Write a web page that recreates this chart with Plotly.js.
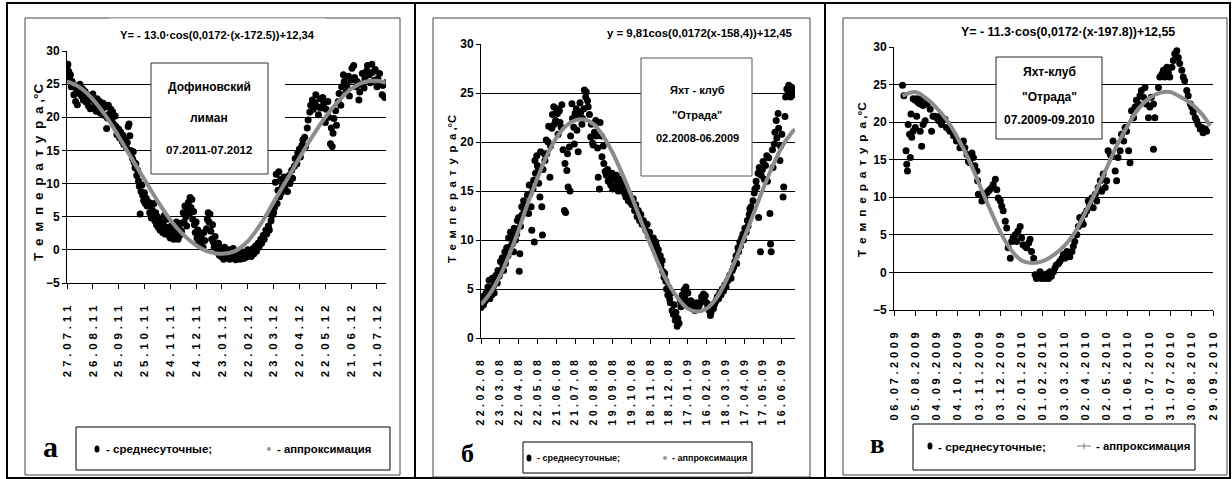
<!DOCTYPE html>
<html><head><meta charset="utf-8">
<script src="https://cdn.plot.ly/plotly-3.0.1.min.js"></script>
<style>html,body{margin:0;padding:0;background:#fff}#chart{width:1232px;height:479px}</style>
</head><body><div id="chart"></div>
<script>
// ---------- DATA ----------
// Panel a: Дофиновский лиман 07.2011-07.2012 (day index from 27.07.11)
const daysA = [0,1,2,3,4,5,6,8,9,10,11,12,13,14,15,17,18,19,21,22,23,25,26,27,29,30,31,33,34,35,37,38,39,41,42,43,45,46,47,48,49,51,52,53,54,56,57,58,60,61,62,64,65,66,68,69,70,71,72,73,74,75,76,77,78,79,80,81,82,83,84,85,86,87,88,89,90,91,92,93,95,96,97,98,99,100,101,102,103,104,105,106,107,108,109,111,112,113,114,115,116,118,119,120,121,122,124,125,126,127,128,129,130,131,132,133,135,136,137,138,139,140,141,142,143,144,145,146,147,148,149,150,151,152,153,154,155,156,158,159,160,162,163,164,165,166,167,168,169,170,171,172,174,175,176,177,178,179,181,182,183,185,186,188,189,190,192,193,195,196,198,199,201,202,204,205,207,208,210,211,213,214,216,217,219,220,222,223,225,226,228,229,231,232,234,235,237,238,240,241,242,243,244,245,246,247,248,249,250,252,253,255,256,258,259,261,262,264,265,267,268,270,271,273,274,276,277,279,280,282,283,285,286,288,289,291,292,294,295,297,298,300,301,303,304,306,307,308,309,310,312,313,315,316,318,319,321,322,324,325,327,328,330,331,333,334,336,337,339,340,342,343,345,346,348,349,351,352,354,355,357,358,360,361,363,364,366,367,369,370];
const tempA = [27.6,28.0,26.9,25.8,26.4,24.6,25.4,23.4,24.6,22.4,23.8,21.9,24.8,23.6,25.0,23.2,24.3,22.6,23.9,22.3,23.4,21.7,22.8,21.3,22.6,23.5,21.4,22.2,20.9,22.8,21.5,22.4,20.6,21.2,22.1,20.3,21.6,18.3,19.9,21.8,20.5,21.2,19.6,20.8,19.0,20.2,18.6,17.4,18.2,16.9,17.8,16.4,17.3,15.9,16.6,15.4,16.2,18.6,19.0,17.2,15.0,14.6,13.8,14.8,13.2,12.4,13.0,11.2,12.0,10.4,9.6,5.4,8.8,9.8,8.2,7.4,8.6,7.0,7.8,6.6,7.2,5.6,6.8,4.8,6.0,5.2,7.0,4.4,5.6,3.8,5.0,3.4,4.6,3.0,4.2,2.6,3.8,5.2,2.4,3.4,4.6,2.2,3.0,1.8,3.6,2.4,1.6,3.0,2.0,4.2,2.6,1.6,3.4,2.2,4.0,2.8,5.6,4.2,6.6,5.0,3.6,6.2,7.2,5.4,7.9,6.4,7.6,4.6,5.8,3.8,2.6,4.2,1.8,3.0,1.2,2.4,0.8,1.8,0.4,2.6,1.4,3.2,4.6,5.6,4.2,5.4,2.8,1.6,3.8,1.2,0.4,2.0,0.6,-0.4,1.0,-0.8,0.2,-1.0,-0.2,-1.4,0.4,-0.6,-1.2,0.0,-1.4,-0.6,-1.2,0.2,-0.8,-1.5,-0.4,-1.0,-1.4,-0.2,-0.9,-1.3,-0.5,-1.1,0.0,-0.8,-0.3,-1.0,0.2,-0.6,0.6,-0.2,1.0,0.4,1.6,1.0,2.2,1.6,3.0,2.4,3.6,3.0,4.4,5.2,5.6,6.4,10.2,11.4,7.0,9.0,11.8,8.0,10.6,8.6,9.6,11.0,9.4,10.4,8.8,11.2,10.0,12.0,10.8,12.6,13.8,13.0,14.6,15.2,14.0,15.8,16.6,17.0,15.6,18.4,19.6,20.8,21.8,22.6,21.2,22.2,23.4,21.6,20.4,22.8,21.4,23.0,22.0,19.2,21.2,22.4,20.0,16.0,18.4,15.6,17.6,19.8,21.0,18.8,22.4,23.6,21.8,24.6,26.4,25.4,23.8,24.8,26.2,23.2,25.6,27.4,27.8,26.0,24.6,25.4,22.6,23.8,25.0,26.6,24.4,25.8,27.0,27.8,26.4,25.2,28.0,26.8,25.6,27.2,24.6,25.8,26.6,25.0,23.4,24.8,23.0,25.2];
const fitDaysA = [0,15,30,45,60,75,90,105,120,135,150,165,180,195,210,225,240,255,270,285,300,315,330,345,360,370];
const fitA = [25.4,24.5,22.7,20.2,17.1,13.8,10.6,7.4,4.5,2.3,0.7,-0.3,-0.6,-0.2,1.3,3.9,7.2,10.5,13.9,17.1,20.0,22.4,24.3,25.3,25.5,25.2];
const tickDaysA = [0,30,60,90,120,150,180,210,240,270,300,330,360];
const ticksA = ['27.07.11','26.08.11','25.09.11','25.10.11','24.11.11','24.12.11','23.01.12','22.02.12','23.03.12','22.04.12','22.05.12','21.06.12','21.07.12'];

// Panel б: Яхт-клуб "Отрада" 02.2008-06.2009 (day index from 22.02.08)
const daysB = [0,1,3,4,5,7,8,9,11,12,13,14,16,17,18,20,21,23,24,26,27,29,31,32,34,35,36,38,39,41,43,44,46,47,49,50,52,53,55,57,58,60,61,62,63,65,66,68,69,71,73,74,76,77,78,80,81,83,84,85,86,87,89,90,91,92,94,95,97,98,99,101,102,104,105,107,108,110,111,113,114,116,117,119,120,122,123,125,126,128,129,131,133,134,135,137,138,139,141,142,143,145,146,148,149,150,152,153,155,156,158,159,161,162,164,165,167,168,170,171,173,175,176,178,179,181,183,184,186,187,189,190,192,193,195,196,198,200,202,203,205,207,209,210,212,214,216,218,219,221,223,225,227,229,231,233,235,237,239,241,243,245,247,249,251,253,255,257,259,261,263,265,267,269,271,273,275,277,279,280,281,283,284,286,287,289,290,292,293,295,296,298,299,301,302,304,305,307,308,310,311,313,314,316,318,319,321,322,324,325,327,328,330,332,334,335,337,339,341,343,344,346,348,350,352,353,355,356,358,360,362,364,366,367,369,371,373,375,377,379,381,383,385,387,389,391,393,395,397,399,401,403,405,407,408,410,411,413,414,416,418,419,421,423,425,426,428,429,431,432,434,436,437,439,440,442,443,444,446,447,449,450,452,454,456,457,459,461,462,463,465,466,468,469,471,472,474,475,477,478,480,482,483,485,486,488,489,491,492,494,495,497,498,500];
const tempB = [3.1,3.5,3.9,3.4,4.3,3.8,4.6,4.2,5.2,4.6,5.9,4.0,5.0,4.4,6.1,5.3,4.6,5.8,6.4,5.6,6.9,6.3,7.8,6.8,8.2,7.4,6.9,8.8,7.6,9.2,8.4,10.2,9.3,10.8,10.3,9.6,8.8,11.2,10.0,10.6,12.0,12.3,6.8,8.6,11.4,13.4,12.6,14.0,13.0,13.8,13.4,14.6,12.7,15.6,14.7,13.4,11.0,15.2,16.1,9.8,18.1,16.8,18.6,17.6,17.4,15.8,14.4,19.0,13.4,10.5,17.2,18.8,18.1,20.2,18.8,20.0,21.6,16.4,19.6,21.4,22.8,23.6,21.8,22.2,23.4,22.9,20.8,23.2,22.0,21.5,23.8,19.2,13.0,17.8,12.8,17.1,18.8,15.4,19.5,15.0,20.6,23.9,22.4,21.5,19.8,22.9,23.4,21.2,19.0,22.6,24.0,23.0,21.8,22.4,23.4,25.3,24.6,25.1,24.2,23.6,22.8,20.5,21.8,19.9,19.7,21.0,22.2,20.6,19.4,16.4,15.2,22.0,20.6,18.5,19.6,17.8,17.0,16.6,17.2,16.0,16.4,15.6,16.8,15.2,16.2,15.4,16.6,15.8,15.0,15.6,16.2,15.0,15.6,14.8,14.4,15.0,14.0,14.6,13.8,13.6,14.2,13.0,13.6,12.4,13.0,12.0,12.6,11.6,12.0,11.4,11.0,11.6,10.4,10.8,10.0,9.6,10.2,9.3,9.8,9.4,8.6,9.0,8.0,8.4,7.4,7.9,6.8,6.2,6.6,5.8,5.0,4.4,5.2,4.0,3.6,4.6,2.8,2.4,3.4,1.8,2.6,1.2,2.0,1.5,3.8,3.2,4.4,3.6,4.9,4.2,5.2,3.8,4.6,3.6,3.2,3.8,3.0,3.4,2.8,3.2,3.6,2.9,3.3,3.6,4.2,4.0,4.5,3.8,4.3,3.6,3.2,2.8,2.3,2.6,3.4,3.0,3.5,3.8,4.2,4.0,4.6,4.4,5.0,4.8,5.4,5.2,5.8,6.0,6.4,6.1,6.9,7.2,7.8,8.4,7.6,9.2,8.8,9.8,9.4,10.2,10.6,10.0,11.2,10.8,12.0,11.4,12.6,13.2,13.4,12.8,14.0,14.8,15.2,16.0,15.4,16.8,12.3,17.4,8.8,16.6,17.2,18.0,16.2,17.6,18.6,16.0,18.4,12.7,9.6,8.8,19.2,17.4,19.8,21.0,22.2,20.4,22.9,21.4,18.1,19.6,20.8,14.4,15.4,22.6,24.6,25.4,24.8,25.8,25.1,24.6,25.6,25.2,24.8,25.4];
const fitDaysB = [0,15,30,45,60,75,90,105,120,135,150,165,180,195,210,225,240,255,270,285,300,315,330,345,360,375,390,405,420,435,450,465,480,495,501];
const fitB = [3.4,4.6,6.3,8.5,11.0,13.8,16.3,18.6,20.4,21.6,22.2,22.3,21.8,20.6,18.9,16.8,14.5,12.0,9.6,7.3,5.4,4.0,3.0,2.7,3.0,4.0,5.7,7.8,10.2,12.7,15.2,17.5,19.5,20.9,21.3];
const tickDaysB = [0,30,60,90,120,150,180,210,240,270,300,330,360,390,420,450,480];
const ticksB = ['22.02.08','23.03.08','22.04.08','22.05.08','21.06.08','21.07.08','20.08.08','19.09.08','19.10.08','18.11.08','18.12.08','17.01.09','16.02.09','18.03.09','17.04.09','17.05.09','16.06.09'];

// Panel в: Яхт-клуб "Отрада" 07.2009-09.2010 (day index from 06.07.2009)
const daysC = [12,14,17,18,19,20,22,23,24,25,27,27,30,30,32,32,34,37,37,39,39,41,41,44,46,48,51,53,55,58,60,63,65,67,72,74,77,79,84,88,93,95,98,100,103,105,107,110,112,114,117,118,119,121,124,126,128,131,133,135,138,140,143,145,147,150,152,154,157,159,161,164,166,168,171,173,175,178,180,182,185,187,190,192,194,197,199,201,204,206,208,211,213,215,218,220,222,225,227,229,232,234,237,239,241,244,246,248,251,253,255,258,260,262,265,267,269,272,274,276,279,281,284,286,288,291,293,295,298,300,302,305,307,309,312,314,316,319,321,324,326,328,331,333,335,338,340,342,345,347,349,352,354,356,359,361,363,366,366,368,373,375,378,380,382,385,387,389,392,394,396,399,401,403,406,408,410,413,415,418,420,422,425,427,429,432,434,436,439,441];
const tempC = [24.9,23.5,16.2,14.4,13.5,19.7,18.4,15.3,21.1,18.0,18.8,23.1,22.9,19.3,23.1,20.8,22.6,22.4,18.8,23.1,16.8,22.2,19.7,20.2,22.4,22.6,21.7,18.8,20.8,20.8,20.6,20.2,20.8,19.7,20.4,19.3,19.1,18.8,18.2,17.5,16.6,17.1,17.5,16.6,15.7,14.8,14.6,15.9,15.3,14.2,13.5,12.2,10.4,10.4,9.5,10.4,9.9,10.6,10.8,11.0,11.3,11.7,12.4,11.0,9.9,9.5,8.8,8.2,6.8,5.9,3.3,1.9,4.1,4.6,5.0,4.1,5.5,6.1,4.6,3.7,3.5,3.3,3.9,4.4,2.8,1.9,-0.3,-0.8,-0.3,0.1,-0.8,-0.3,-0.8,-0.2,-0.8,0.1,-0.5,0.1,0.6,1.0,1.2,1.5,1.9,2.4,1.9,2.8,2.4,2.1,2.8,3.5,4.1,5.0,6.1,7.3,6.8,6.4,7.7,8.2,9.5,9.0,9.9,8.6,10.4,9.5,11.3,12.2,10.8,13.1,11.3,12.2,16.2,15.7,15.5,17.5,13.5,12.2,15.3,16.2,18.4,17.5,19.3,18.8,16.2,14.6,21.5,20.6,22.0,22.9,22.4,23.5,24.2,23.3,24.6,22.4,20.6,22.0,23.3,22.4,16.4,20.6,24.6,26.0,26.4,26.9,26.0,27.3,26.6,26.0,27.3,28.2,29.1,29.5,28.6,27.8,26.9,26.0,25.5,24.2,23.5,22.4,22.0,21.3,20.6,20.2,19.7,19.1,19.3,18.6,19.1,18.8];
const fitDaysC = [12,30,45,60,75,90,105,120,135,150,165,180,195,210,225,240,255,270,285,300,315,330,345,360,375,390,405,420,435,446];
const fitC = [23.5,24.0,23.2,21.9,20.2,17.9,15.1,11.8,8.5,5.4,3.0,1.6,1.25,1.5,2.3,3.5,5.3,8.0,10.8,13.9,17.0,19.6,21.8,23.2,23.9,24.0,23.3,22.4,21.0,19.5];
const tickDaysC = [0,30,60,90,120,150,180,210,240,270,300,330,360,390,420,450];
const ticksC = ['06.07.2009','05.08.2009','04.09.2009','04.10.2009','03.11.2009','03.12.2009','02.01.2010','01.02.2010','03.03.2010','02.04.2010','02.05.2010','01.06.2010','01.07.2010','31.07.2010','30.08.2010','29.09.2010'];

const seriesNames = ['среднесуточные', 'аппроксимация'];
const fitTitles = ['Y= - 13.0·cos(0,0172·(x-172.5))+12,34', 'y = 9,81cos(0,0172(x-158,4))+12,45', 'Y= - 11.3·cos(0,0172·(x-197.8))+12,55'];
const boxTexts = [['Дофиновский','лиман','07.2011-07.2012'], ['Яхт - клуб','"Отрада"','02.2008-06.2009'], ['Яхт-клуб','"Отрада"','07.2009-09.2010']];
const panelLetters = ['а','б','в'];
const yTitle = 'Температура';

// ---------- LAYOUT HELPERS ----------
const W = 1232, H = 479;
const X = p => p / W, Y = p => 1 - p / H;
const SANS = "'Liberation Sans', Arial, sans-serif";
const SERIF = "'Liberation Serif', 'Times New Roman', serif";
const sp = (s, gap) => s.split('').join(gap);
const yTitleText = sp(yTitle, '\u2002') + ' ,°С';

function xax(px, range, anchor, tv, tt, fs, standoff) {
  return {domain:[X(px[0]), X(px[1])], range, anchor, tickmode:'array', tickvals:tv, ticktext:tt.map(t => sp(t, '\u2004')),
    tickangle:-90, ticks:'outside', ticklen:5, tickcolor:'#000', tickwidth:1, showgrid:false, zeroline:false,
    showline:true, linecolor:'#000', linewidth:1, ticklabelstandoff:standoff,
    tickfont:{family:SANS, size:fs, color:'#000', weight:'bold'}, fixedrange:true};
}
function yax(py, range, anchor) {
  return {domain:[Y(py[0]), Y(py[1])], range, anchor, tickmode:'linear', tick0:0, dtick:5,
    ticks:'outside', ticklen:4, tickcolor:'#000', showgrid:true, gridcolor:'#000', gridwidth:1,
    zeroline:false, showline:true, linecolor:'#000', linewidth:1,
    tickfont:{family:SANS, size:12, color:'#000', weight:'bold'}, fixedrange:true};
}
function ann(text, px, py, size, extra) {
  return Object.assign({text, x:X(px), y:Y(py), xref:'paper', yref:'paper', showarrow:false,
    xanchor:'center', yanchor:'middle', font:{family:SANS, size, color:'#000', weight:'bold'}}, extra || {});
}
function rect(x0, y0, x1, y1, line, fill) {
  return {type:'rect', xref:'paper', yref:'paper', x0:X(x0), x1:X(x1), y0:Y(y0), y1:Y(y1),
    line: line || {width:0}, fillcolor: fill || 'rgba(0,0,0,0)', layer:'above'};
}
function seg(x0, y0, x1, y1, w, c) {
  return {type:'line', xref:'paper', yref:'paper', x0:X(x0), x1:X(x1), y0:Y(y0), y1:Y(y1),
    line:{width:w, color:c}, layer:'above'};
}
function dot(px, py, rx, ry, c) {
  return {type:'circle', xref:'paper', yref:'paper', xsizemode:'pixel', ysizemode:'pixel',
    xanchor:X(px), yanchor:Y(py), x0:-rx, x1:rx, y0:-ry, y1:ry, fillcolor:c, line:{width:0}, layer:'above'};
}

const MK = {size:7, color:'#000', symbol:'circle'};
const LN = {shape:'spline', color:'#8c8c8c', width:4};
const traces = [
  {x:daysA, y:tempA, xaxis:'x', yaxis:'y', mode:'markers', marker:MK, name:seriesNames[0]},
  {x:fitDaysA, y:fitA, xaxis:'x', yaxis:'y', mode:'lines', line:LN, name:seriesNames[1]},
  {x:daysB, y:tempB, xaxis:'x2', yaxis:'y2', mode:'markers', marker:MK, name:seriesNames[0]},
  {x:fitDaysB, y:fitB, xaxis:'x2', yaxis:'y2', mode:'lines', line:LN, name:seriesNames[1]},
  {x:daysC, y:tempC, xaxis:'x3', yaxis:'y3', mode:'markers', marker:MK, name:seriesNames[0]},
  {x:fitDaysC, y:fitC, xaxis:'x3', yaxis:'y3', mode:'lines', line:LN, name:seriesNames[1]}
];

const shapes = [
  seg(6, 3, 1231, 3, 2, '#000'), seg(6, 478, 1231, 478, 2, '#000'),
  seg(7, 2, 7, 479, 2, '#000'), seg(415, 2, 415, 479, 2, '#000'),
  seg(825, 2, 825, 479, 2, '#000'), seg(1230, 2, 1230, 479, 2, '#000'),
  rect(25, 18, 400, 475, {width:1, color:'#444'}),
  rect(433, 18, 810, 477, {width:1, color:'#444'}),
  rect(843, 18, 1227, 475, {width:1, color:'#444'}),
  rect(268, 63, 285, 125, null, '#fff'),
  rect(151, 63, 268, 174, {width:1, color:'#333'}, '#fff'),
  rect(641, 58, 752, 176, {width:1, color:'#555'}, '#fff'),
  rect(996, 57, 1102, 139, {width:1, color:'#222'}, '#fff'),
  rect(76, 427, 390, 470, {width:1, color:'#000'}, '#fff'),
  rect(523, 442, 752, 473, {width:1, color:'#000'}, '#fff'),
  rect(913, 424, 1195, 470, {width:1, color:'#000'}, '#fff'),
  dot(97, 449, 2.5, 3.5, '#000'), dot(269, 449, 2, 2, '#999'),
  dot(529, 458, 2.5, 3.5, '#000'), dot(665, 458, 2, 2, '#999'),
  dot(930, 446, 2.5, 3.5, '#000'),
  seg(1077, 446, 1091, 446, 1, '#777'), seg(1084, 443, 1084, 449, 1, '#777')
];

const annotations = [
  ann(fitTitles[0], 217, 35, 11.2, {bgcolor:'#fff', borderpad:10}),
  ann(fitTitles[1], 700, 33, 11.4),
  ann(fitTitles[2], 1068, 32, 12.4),
  ann(boxTexts[0][0], 209, 87, 12), ann(boxTexts[0][1], 209, 118, 12), ann(boxTexts[0][2], 209, 150, 11.5),
  ann(boxTexts[1][0], 697, 90, 11), ann(boxTexts[1][1], 697, 115, 11), ann(boxTexts[1][2], 697, 138, 11),
  ann(boxTexts[2][0], 1049, 72, 12), ann(boxTexts[2][1], 1049, 97, 12), ann(boxTexts[2][2], 1049, 120, 12),
  ann('- ' + seriesNames[0] + ';', 104, 449, 11.5, {xanchor:'left'}),
  ann('- ' + seriesNames[1], 275, 449, 11.3, {xanchor:'left'}),
  ann('- ' + seriesNames[0] + ';', 535, 458, 9, {xanchor:'left'}),
  ann('- ' + seriesNames[1], 670, 458, 9, {xanchor:'left'}),
  ann('- ' + seriesNames[0] + ';', 936, 446, 11.7, {xanchor:'left'}),
  ann('- ' + seriesNames[1], 1094, 446, 11.3, {xanchor:'left'}),
  ann(panelLetters[0], 50, 446, 30, {font:{family:SERIF, size:30, color:'#000', weight:'bold'}}),
  ann(panelLetters[1], 467, 453, 26, {font:{family:SERIF, size:26, color:'#000', weight:'bold'}}),
  ann(panelLetters[2], 877, 444, 27, {font:{family:SERIF, size:27, color:'#000', weight:'bold'}}),
  ann(yTitleText, 38, 173, 13.5, {textangle:-90}),
  ann(yTitleText, 452, 189, 11.3, {textangle:-90}),
  ann(yTitleText, 862, 180, 11.8, {textangle:-90})
];

const layout = {
  width:W, height:H, margin:{l:0, r:0, t:0, b:0}, paper_bgcolor:'#fff', plot_bgcolor:'#fff',
  showlegend:false, hovermode:false,
  xaxis: xax([67,386], [0,370.5], 'y', tickDaysA, ticksA, 11.5, 12),
  yaxis: yax([283,51], [-5,30], 'x'),
  xaxis2: xax([481,795], [0,501], 'y2', tickDaysB, ticksB, 10.5, 12),
  yaxis2: yax([338,44], [0,30], 'x2'),
  xaxis3: xax([894,1213], [0,450], 'y3', tickDaysC, ticksC, 11, 12),
  yaxis3: yax([310,47], [-5,30], 'x3'),
  shapes, annotations
};
Plotly.newPlot('chart', traces, layout, {staticPlot:true, displayModeBar:false});
</script>
</body></html>
